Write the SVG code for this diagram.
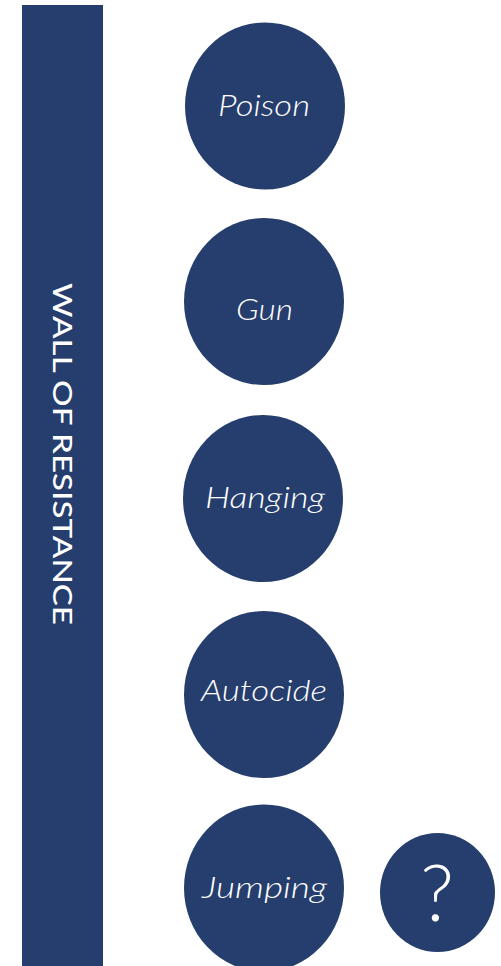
<svg xmlns="http://www.w3.org/2000/svg" width="501" height="966" viewBox="0 0 501 966">
<style>
.n{fill:#263e6e}
.t{fill:#fff;font-family:Lato,"Open Sans",sans-serif;font-style:italic;font-weight:300;font-size:29px;text-anchor:middle}
.w{fill:#fff;font-family:Lato,"Open Sans",sans-serif;font-weight:500;font-size:26px;text-anchor:middle}
</style>
<rect x="0" y="0" width="501" height="966" fill="#fff"/>
<g id="wall">
<rect class="n" x="22" y="5" width="81" height="961"/>
<text class="w" transform="translate(62,454) rotate(90)" y="9" textLength="342" lengthAdjust="spacingAndGlyphs">WALL OF RESISTANCE</text>
</g>
<g id="poison"><ellipse class="n" cx="265" cy="106" rx="80" ry="83.5"/><text class="t" x="264" y="116" textLength="92" lengthAdjust="spacingAndGlyphs">Poison</text></g>
<g id="gun"><ellipse class="n" cx="264" cy="301.5" rx="80" ry="83.5"/><text class="t" x="264.5" y="320" textLength="57" lengthAdjust="spacingAndGlyphs">Gun</text></g>
<g id="hanging"><ellipse class="n" cx="263" cy="498.5" rx="80" ry="83.5"/><text class="t" x="265" y="508" textLength="120" lengthAdjust="spacingAndGlyphs">Hanging</text></g>
<g id="autocide"><ellipse class="n" cx="264" cy="694.5" rx="80" ry="83.5"/><text class="t" x="264" y="701" textLength="126" lengthAdjust="spacingAndGlyphs">Autocide</text></g>
<g id="jumping"><ellipse class="n" cx="264" cy="888" rx="80" ry="83.5"/><text class="t" x="264.5" y="898" textLength="125" lengthAdjust="spacingAndGlyphs">Jumping</text></g>
<g id="unknown"><ellipse class="n" cx="437.5" cy="892.5" rx="57.5" ry="59.5"/><text x="437" y="921" fill="#fff" font-family="Lato,'Open Sans',sans-serif" font-size="78" font-weight="300" text-anchor="middle">?</text></g>
<g id="connectors"/>
</svg>
